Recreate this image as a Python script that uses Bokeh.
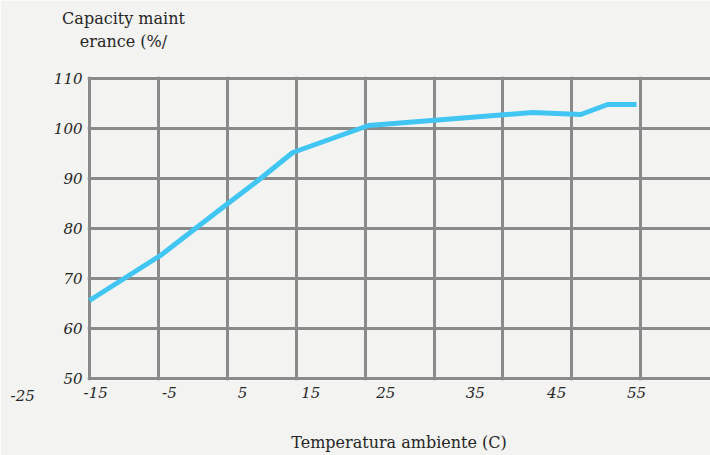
from bokeh.plotting import figure
from bokeh.models import Range1d, FixedTicker, Label
from bokeh.embed import file_html
from bokeh.resources import INLINE

# ---- data ----
temperature = [-15, -4.7, 4.7, 9.1, 14.5, 25.5, 49.3, 56.3, 60.2, 64.4]
capacity = [65.6, 74.6, 84.6, 89.2, 95.2, 100.6, 103.2, 102.8, 104.8, 104.8]
x_tick_labels = ["-25", "-15", "-5", "5", "15", "25", "35", "45", "55"]
y_ticks = [50, 60, 70, 80, 90, 100, 110]
x_grid = [-15, -5, 5, 15, 25, 35, 45, 55, 65]

# ---- layout ----
x_tick_pos = [-24.7, -14.1, -3.4, 7.2, 17.1, 28.0, 41.0, 52.8, 64.4]
BG = "#f3f3f1"
GRID = "#898b8b"
TXT = "#262626"
FONT = "DejaVu Serif"
TICK_SIZE = "15px"
TITLE_SIZE = "16px"
X0, X1 = -15.29, 75.13
Y0, Y1 = 49.6, 110.4

p = figure(width=710, height=455, x_range=Range1d(X0, X1), y_range=Range1d(Y0, Y1),
           output_backend="svg", toolbar_location=None,
           min_border_left=87, min_border_right=0, min_border_top=76, min_border_bottom=75)
p.background_fill_color = BG
p.border_fill_color = BG
p.outline_line_color = None

p.xgrid.ticker = FixedTicker(ticks=x_grid)
p.ygrid.ticker = FixedTicker(ticks=y_ticks)
for g in (p.xgrid, p.ygrid):
    g.grid_line_color = GRID
    g.grid_line_width = 3
    g.grid_line_alpha = 1

p.yaxis.ticker = FixedTicker(ticks=y_ticks)
p.yaxis.axis_line_color = None
p.yaxis.major_tick_line_color = None
p.yaxis.minor_tick_line_color = None
p.yaxis.major_tick_out = 0
p.yaxis.major_label_standoff = 5
p.yaxis.major_label_text_font = FONT
p.yaxis.major_label_text_font_style = "italic"
p.yaxis.major_label_text_font_size = TICK_SIZE
p.yaxis.major_label_text_color = TXT

inside = [(pos, lab) for pos, lab in zip(x_tick_pos, x_tick_labels) if X0 <= pos <= X1]
outside = [(pos, lab) for pos, lab in zip(x_tick_pos, x_tick_labels) if not (X0 <= pos <= X1)]
p.xaxis.ticker = FixedTicker(ticks=[pos for pos, _ in inside])
p.xaxis.major_label_overrides = {pos: lab for pos, lab in inside}
p.xaxis.axis_line_color = None
p.xaxis.major_tick_line_color = None
p.xaxis.minor_tick_line_color = None
p.xaxis.major_tick_out = 0
p.xaxis.major_label_standoff = 6
p.xaxis.major_label_text_font = FONT
p.xaxis.major_label_text_font_style = "italic"
p.xaxis.major_label_text_font_size = TICK_SIZE
p.xaxis.major_label_text_color = TXT
p.xaxis.axis_label = "Temperatura ambiente (C)"
p.xaxis.axis_label_standoff = 32
p.xaxis.axis_label_text_font = FONT
p.xaxis.axis_label_text_font_style = "normal"
p.xaxis.axis_label_text_font_size = TITLE_SIZE
p.xaxis.axis_label_text_color = TXT

for pos, lab in outside:
    p.add_layout(Label(x=pos, y=Y0, y_offset=-15, text=lab, text_align="center",
                       text_baseline="middle", text_font=FONT, text_font_style="italic",
                       text_font_size=TICK_SIZE, text_color=TXT), "left")

for off, t in ((58, "Capacity maint"), (35, "erance (%/")):
    p.add_layout(Label(x=X0, y=Y1, x_offset=36, y_offset=off, text=t, text_align="center",
                       text_baseline="middle", text_font=FONT, text_font_size=TITLE_SIZE,
                       text_color=TXT), "above")

p.line(temperature, capacity, line_color="#41c6f3", line_width=5, line_join="round")

html = file_html(p, INLINE)
html = html.replace("<body>", '<body style="background:#f3f3f1">', 1)
open("out.html", "w").write(html)
